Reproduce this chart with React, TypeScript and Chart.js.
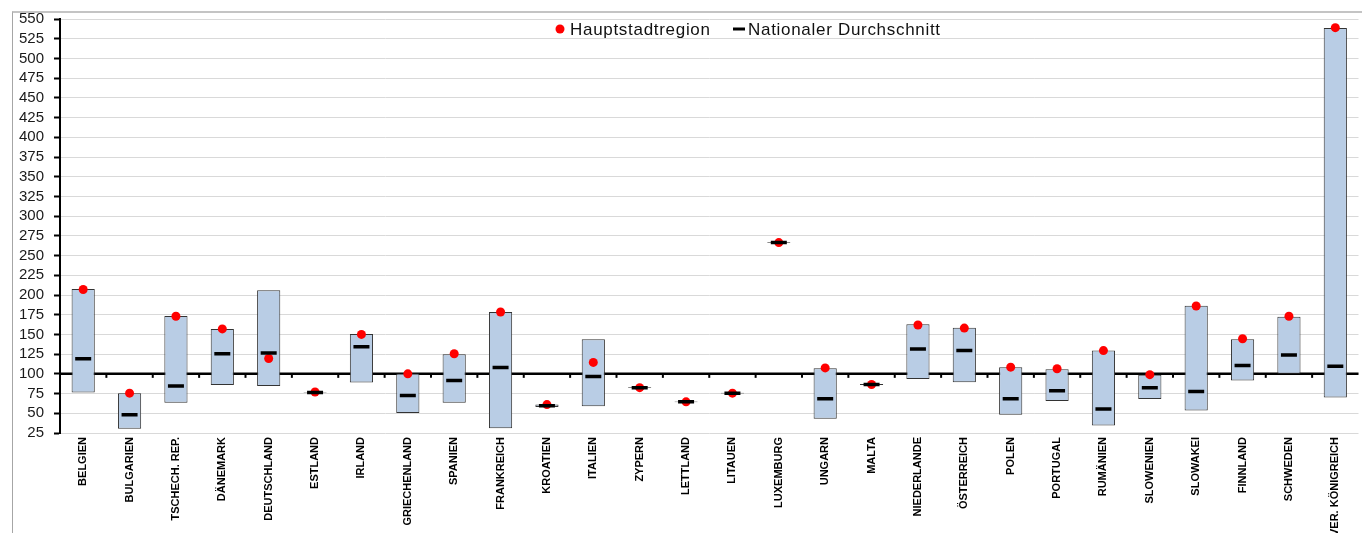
import React, { useEffect, useRef } from "react";
import { Chart, registerables } from "chart.js";

Chart.register(...registerables);

const categories = [
  "BELGIEN", "BULGARIEN", "TSCHECH. REP.", "DÄNEMARK", "DEUTSCHLAND", "ESTLAND", "IRLAND",
  "GRIECHENLAND", "SPANIEN", "FRANKREICH", "KROATIEN", "ITALIEN", "ZYPERN", "LETTLAND",
  "LITAUEN", "LUXEMBURG", "UNGARN", "MALTA", "NIEDERLANDE", "ÖSTERREICH", "POLEN",
  "PORTUGAL", "RUMÄNIEN", "SLOWENIEN", "SLOWAKEI", "FINNLAND", "SCHWEDEN", "VER. KÖNIGREICH",
];

const rangeLow = [
  76.5, 30.5, 63.5, 86, 84.5, 76.5, 89, 50.5, 63.5, 31, 58, 59, 82, 64, 75, 266, 43, 86,
  93.5, 89.5, 48, 65.5, 34.5, 68, 53.5, 91.5, 100, 70,
];

const rangeHigh = [
  207.5, 75.5, 173.5, 157, 206, 77, 150.5, 100.5, 125, 178.5, 61, 144, 83, 65, 76, 267, 107,
  87, 163, 158.5, 108.5, 106, 129.5, 99, 186.5, 144, 172.5, 538.5,
];

const capitalRegion = [
  207, 75.5, 173, 157, 119.5, 77, 150, 100, 125.5, 178.5, 61, 114.5, 82.5, 64.5, 75.5, 266.5,
  107.5, 86.5, 162, 158, 108.5, 106.5, 129.5, 99, 186, 144.5, 173, 539,
];

const nationalAverage = [
  119, 48, 84.5, 125.5, 126.5, 76.5, 134.5, 72.5, 91.5, 108, 59.5, 96.5, 82.5, 64.5, 75.5,
  266.5, 68.5, 86.5, 131.5, 129.5, 68.5, 78.5, 55.5, 82.5, 77.5, 110.5, 124, 109.5,
];

const yMin = 25;
const yMax = 550;
const yStep = 25;
const baselineValue = 100;

const legendLabels = ["Hauptstadtregion", "Nationaler Durchschnitt"];

const FONT = "'Liberation Sans', Arial, sans-serif";

const baselinePlugin = {
  id: "baseline100",
  beforeDatasetsDraw(chart: any) {
    const { ctx, chartArea, scales } = chart;
    const y = scales.y.getPixelForValue(baselineValue);
    const xs = scales.x;
    ctx.save();
    ctx.strokeStyle = "#000";
    ctx.lineWidth = 2.5;
    ctx.beginPath();
    ctx.moveTo(chartArea.left, y);
    ctx.lineTo(chartArea.right, y);
    ctx.stroke();
    ctx.lineWidth = 2;
    for (let i = 1; i < categories.length; i++) {
      const bx = (xs.getPixelForValue(i - 1) + xs.getPixelForValue(i)) / 2;
      ctx.beginPath();
      ctx.moveTo(bx, y);
      ctx.lineTo(bx, y + 4);
      ctx.stroke();
    }
    ctx.restore();
  },
};

const legendPlugin = {
  id: "customLegend",
  afterDraw(chart: any) {
    const { ctx } = chart;
    const y = 29;
    ctx.save();
    ctx.font = `17px ${FONT}`;
    try {
      (ctx as any).letterSpacing = "0.7px";
    } catch (e) {}
    ctx.textBaseline = "middle";
    ctx.fillStyle = "#ff0000";
    ctx.beginPath();
    ctx.arc(560, y, 4.5, 0, Math.PI * 2);
    ctx.fill();
    ctx.fillStyle = "#111";
    ctx.fillText(legendLabels[0], 570, y + 1);
    ctx.strokeStyle = "#000";
    ctx.lineWidth = 3;
    ctx.beginPath();
    ctx.moveTo(733, y);
    ctx.lineTo(745, y);
    ctx.stroke();
    ctx.fillText(legendLabels[1], 748, y + 1);
    ctx.restore();
  },
};

export default function App() {
  const canvasRef = useRef<HTMLCanvasElement | null>(null);

  useEffect(() => {
    if (!canvasRef.current) return;
    const chart = new Chart(canvasRef.current, {
      type: "bar",
      data: {
        labels: categories,
        datasets: [
          {
            type: "line",
            label: legendLabels[1],
            data: nationalAverage,
            showLine: false,
            pointStyle: "line",
            pointRadius: 8,
            pointBorderWidth: 3.5,
            pointBorderColor: "#000",
            pointBackgroundColor: "#000",
            order: 1,
          } as any,
          {
            type: "line",
            label: legendLabels[0],
            data: capitalRegion,
            showLine: false,
            pointStyle: "circle",
            pointRadius: 4.5,
            pointBorderWidth: 0,
            pointBackgroundColor: "#ff0000",
            pointBorderColor: "#ff0000",
            order: 2,
          } as any,
          {
            type: "bar",
            label: "Spannweite",
            data: rangeLow.map((lo, i) => [lo, rangeHigh[i]]),
            backgroundColor: "#b9cde5",
            borderColor: "#333333",
            borderWidth: 1,
            borderSkipped: false,
            barPercentage: 0.5,
            categoryPercentage: 1.0,
            order: 3,
          } as any,
        ],
      },
      options: {
        responsive: false,
        animation: false,
        events: [],
        devicePixelRatio: 1,
        layout: { padding: { left: 0, right: 0, top: 19, bottom: 0 } },
        plugins: {
          legend: { display: false },
          tooltip: { enabled: false },
          title: { display: false },
        },
        scales: {
          x: {
            type: "category",
            grid: { display: false, drawTicks: false, tickLength: 0 },
            border: { display: false },
            ticks: {
              autoSkip: false,
              minRotation: 90,
              maxRotation: 90,
              padding: 4,
              color: "#000",
              font: { family: FONT, size: 11, weight: "bold" },
            },
            afterFit(scale: any) {
              scale.height = 100;
            },
          },
          y: {
            min: yMin,
            max: yMax,
            ticks: {
              stepSize: yStep,
              autoSkip: false,
              padding: 10,
              color: "#1a1a1a",
              font: { family: FONT, size: 15 },
            },
            grid: {
              color: "#d9d9d9",
              lineWidth: 1,
              tickColor: "#000",
              tickLength: 6,
              tickWidth: 2,
            },
            border: { display: true, color: "#000", width: 2 },
            afterFit(scale: any) {
              scale.width = 60;
            },
          },
        },
      },
      plugins: [baselinePlugin, legendPlugin],
    });
    return () => chart.destroy();
  }, []);

  return (
    <div
      style={{
        position: "fixed",
        left: 0,
        top: 0,
        width: 1362,
        height: 533,
        overflow: "hidden",
        background: "#fff",
      }}
    >
      <canvas
        ref={canvasRef}
        width={1370}
        height={533}
        style={{ position: "absolute", left: 0, top: 0, width: 1370, height: 533 }}
      />
      <div
        style={{
          position: "absolute",
          left: 12,
          top: 11,
          right: -2,
          bottom: -2,
          borderTop: "2px solid #c4c4c4",
          borderLeft: "1px solid #a6a6a6",
          pointerEvents: "none",
        }}
      />
    </div>
  );
}
